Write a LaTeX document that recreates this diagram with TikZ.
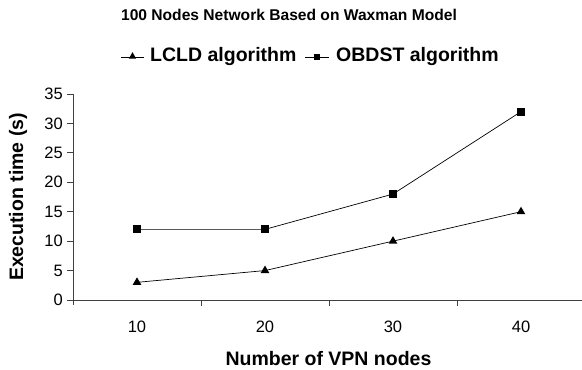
\documentclass[tikz,border=0pt]{standalone}
\usepackage{fontspec}
\setmainfont{Liberation Sans}
\usetikzlibrary{shapes.geometric}
\begin{document}
\begin{tikzpicture}[x=1pt,y=1pt,
  axis/.style={draw=black!75,line width=0.8pt},
  series/.style={draw=black,line width=0.7pt},
  tri/.style={regular polygon,regular polygon sides=3,fill=black,inner sep=0pt,minimum size=10pt},
  sq/.style={rectangle,fill=black,inner sep=0pt,minimum size=8pt},
  ltri/.style={tri,minimum size=8.5pt},
  lsq/.style={sq,minimum size=6.5pt},
  ticklab/.style={font=\fontsize{16.5}{18}\selectfont},
  axtitle/.style={font=\bfseries\fontsize{19.5}{22}\selectfont},
  legtext/.style={font=\bfseries\fontsize{19.5}{22}\selectfont,anchor=west,inner sep=0pt},
]
\useasboundingbox (0,0) rectangle (582,370);
% title
\node[font=\bfseries\fontsize{15.6}{18}\selectfont] (title) at (289,355) {100 Nodes Network Based on Waxman Model};
% legend
\coordinate (l1a) at (121,313); \coordinate (l1b) at (144,313);
\draw[series] (l1a) -- (l1b);
\node[ltri] (l1m) at (132.5,313.5) {};
\node[legtext] (l1t) at (150,313) {LCLD algorithm};
\coordinate (l2a) at (305,313); \coordinate (l2b) at (329,313);
\draw[series] (l2a) -- (l2b);
\node[lsq] (l2m) at (317,313) {};
\node[legtext] (l2t) at (336,313) {OBDST algorithm};
% axes
\coordinate (yb) at (73,65); \coordinate (yt) at (73,276);
\coordinate (xl) at (67,70); \coordinate (xr) at (582,70);
\draw[axis] (yb) -- (yt);
\draw[axis] (xl) -- (xr);
\foreach \v in {0,5,...,35} {
  \draw[axis] (67,{70+\v*5.886}) -- (73,{70+\v*5.886});
  \node[ticklab,anchor=east,inner sep=0pt] (yl\v) at (63,{70+\v*5.886}) {\v};
}
\foreach \x in {201,329,457} {
  \draw[axis] (\x,70) -- (\x,64);
}
\foreach \c/\lab in {137/10,265/20,393/30,521/40} {
  \node[ticklab] (xt\lab) at (\c,43) {\lab};
}
\node[axtitle] (xtitle) at (328.5,11) {Number of VPN nodes};
\node[axtitle,rotate=90] (ytitle) at (18,173) {Execution time (s)};
% data
\foreach \c/\lab/\a/\b in {137/10/3/12,265/20/5/12,393/30/10/18,521/40/15/32} {
  \coordinate (a\lab) at (\c,{70+\a*5.886});
  \coordinate (b\lab) at (\c,{70+\b*5.886});
}
\draw[series] (a10) -- (a20) -- (a30) -- (a40);
\draw[series] (b10) -- (b20) -- (b30) -- (b40);
\foreach \lab in {10,20,30,40} {
  \node[tri] (ta\lab) at (a\lab) {};
  \node[sq] (sb\lab) at (b\lab) {};
}
\end{tikzpicture}
\end{document}
